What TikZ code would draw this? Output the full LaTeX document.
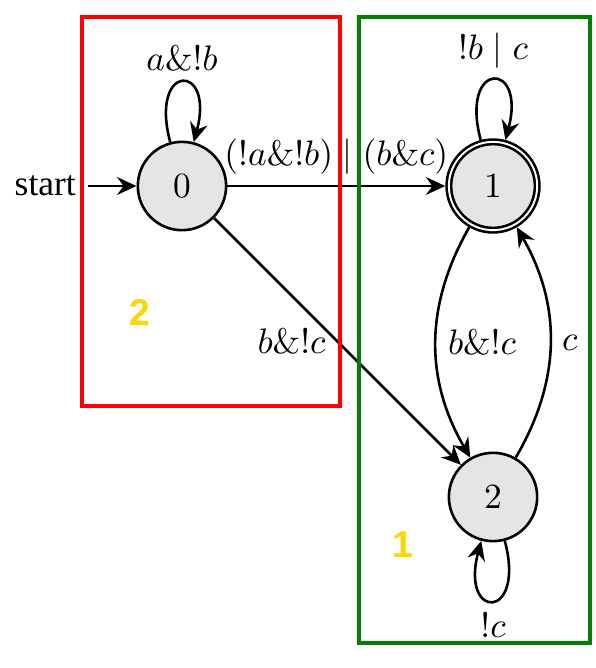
\documentclass[tikz,border=0pt]{standalone}
\usepackage{amsmath}
\usepackage{amssymb}
\usepackage{xcolor}
\usepackage[no-math]{fontspec}
\setmainfont{Liberation Serif}
\newfontfamily\tagfont{Liberation Sans}
\usepackage{tikz}
\usetikzlibrary{positioning}
\usetikzlibrary{arrows.meta}
\definecolor{boxgreen}{RGB}{0,128,0}
\definecolor{taggold}{RGB}{255,215,0}

\begin{document}
\begin{tikzpicture}[>={Stealth[length=6pt, width=5.5pt, inset=2pt]}, thick,
    font=\fontsize{10.95}{13}\selectfont,
    vertex/.style={circle, draw=black, fill=gray!20, minimum size=9.6mm, inner sep=0pt},
    every loop/.style={min distance=9mm, looseness=8}]
    \useasboundingbox (0,0) rectangle (6.478,-7.261);
    \node[vertex] (q0) at (1.978, -2.022) {$0$};
    \node[vertex, double, double distance=0.6pt, outer sep=1.1pt] (q1) at (5.359, -2.022) {$1$};
    \node[vertex] (q2) at (5.359, -5.402) {$2$};
    \node[left=5.3mm of q0] (start) {start};
    \draw[->] (start) -- (q0);
    \draw[->] (q0) edge[loop above] node {$a\&!b$} ()
        (q0) edge node[above] {$(!a\&!b) \mid (b\&c)$} (q1)
        (q0) edge node[left] {$b\&!c$} (q2)
        (q1) edge[loop above] node {$!b \mid c$} ()
        (q1) edge[bend right] node[right] {$b\&!c$} (q2)
        (q2) edge[bend right] node[right] {$c$} (q1)
        (q2) edge[loop below] node {$!c$} ();
    % partition boxes
    \draw[red, line width=1.5pt] (0.891, -0.185) rectangle (3.696, -4.413);
    \draw[boxgreen, line width=1.5pt] (3.902, -0.185) rectangle (6.413, -6.989);
    \node[taggold, font=\tagfont\bfseries\fontsize{11.5}{14}\selectfont] (tagred) at (1.522, -3.402) {2};
    \node[taggold, font=\tagfont\bfseries\fontsize{11.5}{14}\selectfont] (taggreen) at (4.380, -5.924) {1};
\end{tikzpicture}
\end{document}
